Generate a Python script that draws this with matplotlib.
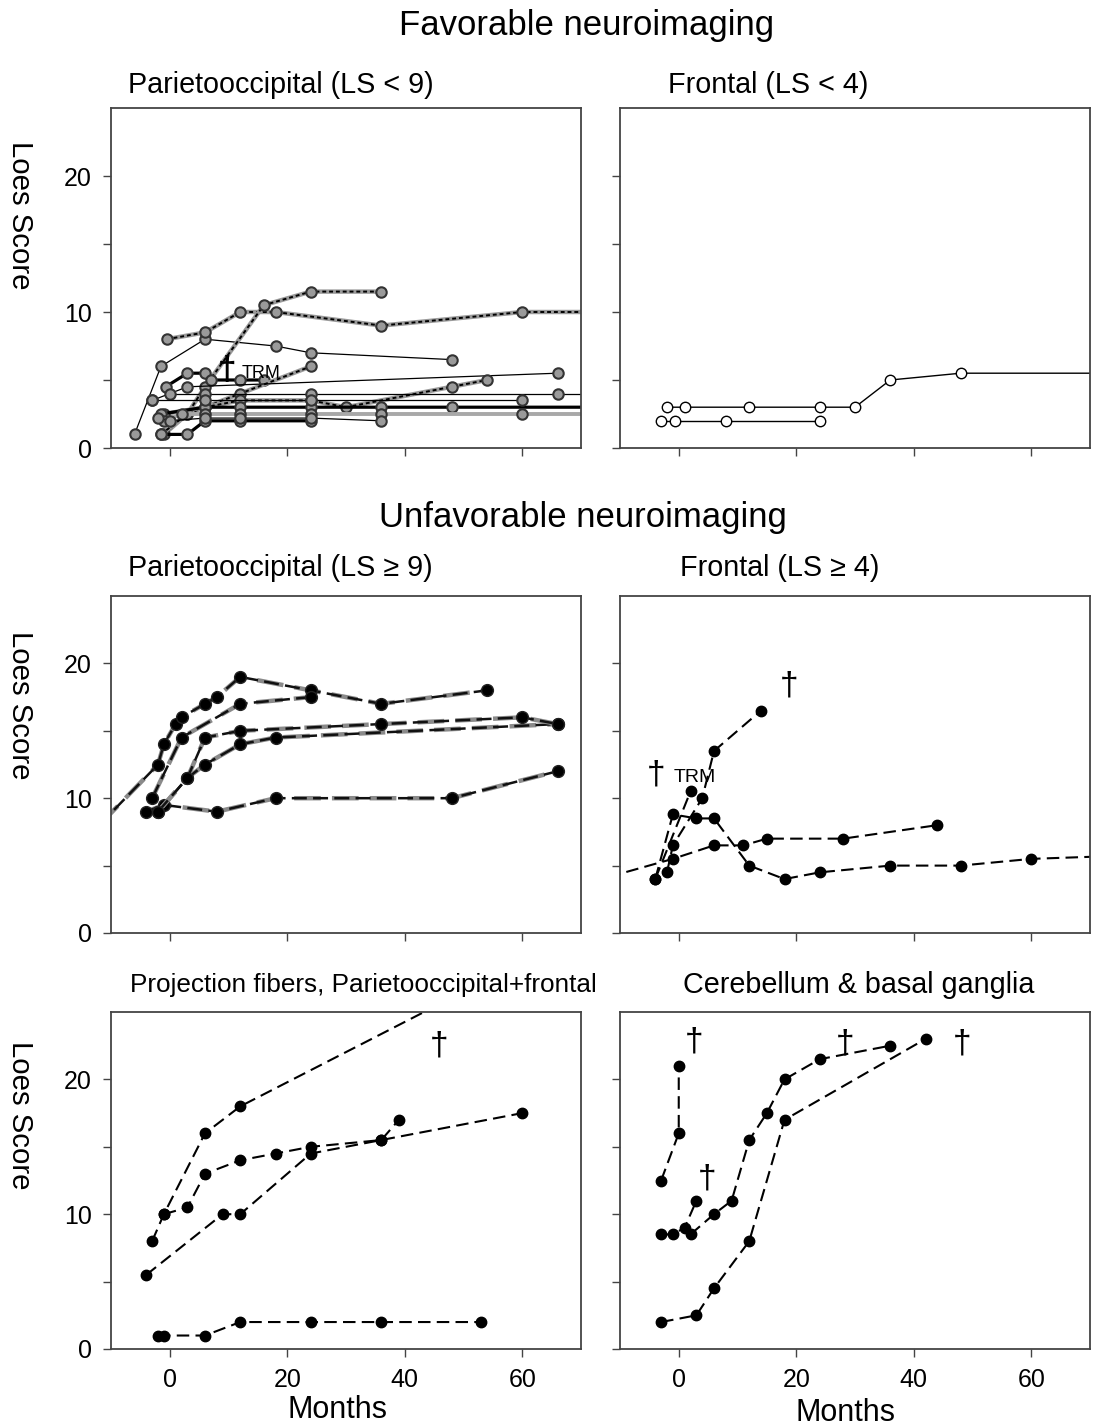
import matplotlib
matplotlib.use("Agg")
import matplotlib.pyplot as plt

plt.rcParams['font.family'] = ['Liberation Sans', 'DejaVu Sans']

W, H = 1094, 1428

# ---- favorable, parietooccipital (LS < 9)
fav_po_x = [
    [-6, -1.5, 6, 18, 24, 48],
    [-0.5, 6, 12, 18, 36, 60, 75],
    [-1, 3, 6, 16, 24, 36],
    [-0.7, 3, 6, 7, 12, 16],
    [-1.5, 3, 6, 12, 24],
    [-3, 3, 66],
    [-1, 6, 12, 24, 30, 48, 54],
    [-1.5, 6, 12, 24, 36, 48, 75],
    [0, 6, 24, 66, 75],
    [-3, 6, 24, 60],
    [-1, 2, 6, 12, 24, 36, 60, 75],
    [-1.5, 3, 6, 12, 24],
    [-2, 0, 6, 12, 24, 36],
]
fav_po_y = [
    [1, 6, 8, 7.5, 7, 6.5],
    [8, 8.5, 10, 10, 9, 10, 10],
    [1, 2.5, 4.5, 10.5, 11.5, 11.5],
    [4.5, 5.5, 5.5, 5, 5, 5],
    [1, 2.5, 3, 4, 6],
    [3.5, 4.5, 5.5],
    [2.5, 3, 3.5, 3.5, 3, 4.5, 5],
    [2.5, 3, 3, 3, 3, 3, 3],
    [4, 4, 4, 4, 4],
    [3.5, 3.5, 3.5, 3.5],
    [2, 2.5, 2.5, 2.5, 2.5, 2.5, 2.5, 2.5],
    [1, 1, 2, 2, 2],
    [2.2, 2, 2.2, 2.2, 2.2, 2],
]
fav_po_kind = ['thin', 'graydash', 'graydash', 'thick', 'graydash', 'thin', 'graydash',
               'thick', 'thin', 'thin', 'gray', 'thick', 'thin']

# ---- favorable, frontal (LS < 4)
fav_fr_x = [[-2, 1, 12, 24, 30, 36, 48, 75], [-3, -0.7, 8, 24]]
fav_fr_y = [[3, 3, 3, 3, 3, 5, 5.5, 5.5], [2, 2, 2, 2]]

# ---- unfavorable, parietooccipital (LS >= 9)
unf_po_x = [
    [-12, -2, -1, 1, 2, 6, 8, 12, 24, 36, 54],
    [-3, 2, 12, 24],
    [-4, -1, 8, 18, 48, 66],
    [-2, 3, 6, 12, 18, 66],
    [-2, 3, 6, 12, 36, 60, 66],
]
unf_po_y = [
    [8, 12.5, 14, 15.5, 16, 17, 17.5, 19, 18, 17, 18],
    [10, 14.5, 17, 17.5],
    [9, 9.5, 9, 10, 10, 12],
    [9, 11.5, 12.5, 14, 14.5, 15.5],
    [9, 11.5, 14.5, 15, 15.5, 16, 15.5],
]

# ---- unfavorable, frontal (LS >= 4)
unf_fr_x = [
    [-2, -1, 4, 6, 14],
    [-4, 2],
    [-4, -1, 3, 6, 12, 18, 24, 36, 48, 60, 80],
    [-12, -1, 6, 11, 15, 28, 44],
]
unf_fr_y = [
    [4.5, 6.5, 10, 13.5, 16.5],
    [4, 10.5],
    [4, 8.8, 8.5, 8.5, 5, 4, 4.5, 5, 5, 5.5, 5.8],
    [4.15, 5.5, 6.5, 6.5, 7, 7, 8],
]

# ---- projection fibers, parietooccipital + frontal
proj_x = [
    [-3, -1, 6, 12, 50],
    [-1, 3, 6, 12, 18, 24, 36, 39],
    [-4, 9, 12, 24, 36, 60],
    [-2, -1, 6, 12, 24, 36, 53],
]
proj_y = [
    [8, 10, 16, 18, 26.5],
    [10, 10.5, 13, 14, 14.5, 15, 15.5, 17],
    [5.5, 10, 10, 14.5, 15.5, 17.5],
    [1, 1, 1, 2, 2, 2, 2],
]

# ---- cerebellum & basal ganglia
cb_x = [
    [-3, 0, 0],
    [-3, -1, 1, 3],
    [2, 6, 9, 12, 15, 18, 24, 36],
    [-3, 3, 6, 12, 18, 42],
]
cb_y = [
    [12.5, 16, 21],
    [8.5, 8.5, 9, 11],
    [8.5, 10, 11, 15.5, 17.5, 20, 21.5, 22.5],
    [2, 2.5, 4.5, 8, 17, 23],
]

# deaths (dagger) positions per panel
fav_po_dead = [(9.7, 5.7)]
unf_fr_dead = [(18.7, 18.3), (-3.8, 11.7)]
proj_dead = [(45.9, 22.5)]
cb_dead = [(2.6, 22.8), (4.8, 12.6), (28.3, 22.6), (48.2, 22.6)]

SPINE = '#444444'


def make_axes(left_px, top_px, right_px, bottom_px, xlab=False, ylab=False):
    ax = fig.add_axes([left_px / W, 1 - bottom_px / H,
                       (right_px - left_px) / W, (bottom_px - top_px) / H])
    ax.set_xlim(-10, 70)
    ax.set_ylim(0, 25)
    ax.set_xticks([0, 20, 40, 60])
    ax.set_yticks([0, 5, 10, 15, 20])
    ax.set_xticklabels(['0', '20', '40', '60'] if xlab else [])
    ax.set_yticklabels(['0', '', '10', '', '20'] if ylab else [])
    ax.tick_params(direction='out', length=6, width=1, color=SPINE,
                   labelsize=18, pad=8)
    for s in ax.spines.values():
        s.set_color(SPINE)
        s.set_linewidth(1.3)
    return ax


def dashed(ax, x, y, lw=1.5, ms=7.5):
    ax.plot(x, y, color='black', lw=lw, ls=(0, (6, 3)),
            marker='o', ms=ms, mfc='black', mec='black')


def daggers(ax, pts, size=24):
    for px, py in pts:
        ax.text(px, py, '\u2020', fontsize=size, ha='center', va='center')


fig = plt.figure(figsize=(W / 100, H / 100), dpi=100)

# panel 1
ax1 = make_axes(111, 108, 581, 448, ylab=True)
for x, y, k in zip(fav_po_x, fav_po_y, fav_po_kind):
    mk = dict(marker='o', ms=7.5, mfc='#9a9a9a', mec='#333333', mew=1.5)
    if k == 'thin':
        ax1.plot(x, y, color='black', lw=0.9, **mk)
    elif k == 'thick':
        ax1.plot(x, y, color='black', lw=2.3, **mk)
    elif k == 'gray':
        ax1.plot(x, y, color='#a8a8a8', lw=2.8, **mk)
    else:
        ax1.plot(x, y, color='#9a9a9a', lw=3.2)
        ax1.plot(x, y, color='black', lw=1.4, ls=(0, (2, 1.5)), **mk)
for px, py in fav_po_dead:
    ax1.text(px, py, '\u2020', fontsize=24, fontweight='bold', ha='center', va='center')
    ax1.text(px + 2.6, py - 0.2, 'TRM', fontsize=13, ha='left', va='center')

# panel 2
ax2 = make_axes(620, 108, 1090, 448)
for x, y in zip(fav_fr_x, fav_fr_y):
    ax2.plot(x, y, color='black', lw=1.0, marker='o', ms=7.5,
             mfc='white', mec='black', mew=1.0)

# panel 3
ax3 = make_axes(111, 596, 581, 933, ylab=True)
for x, y in zip(unf_po_x, unf_po_y):
    ax3.plot(x, y, color='#8a8a8a', lw=3.2, ls=(0, (6, 2.5)))
    ax3.plot(x, y, color='#111111', lw=1.8, ls=(0, (6, 2.5)),
             marker='o', ms=8.5, mfc='black', mec='#222222')

# panel 4
ax4 = make_axes(620, 596, 1090, 933)
for x, y in zip(unf_fr_x, unf_fr_y):
    dashed(ax4, x, y)
daggers(ax4, unf_fr_dead)
ax4.text(-0.9, 11.55, 'TRM', fontsize=14, ha='left', va='center')

# panel 5
ax5 = make_axes(111, 1012, 581, 1349, xlab=True, ylab=True)
for x, y in zip(proj_x, proj_y):
    dashed(ax5, x, y)
daggers(ax5, proj_dead)

# panel 6
ax6 = make_axes(620, 1012, 1090, 1349, xlab=True)
for x, y in zip(cb_x, cb_y):
    dashed(ax6, x, y)
daggers(ax6, cb_dead)


def ftext(px, py, s, size, ha='center', rot=0):
    fig.text(px / W, 1 - py / H, s, fontsize=size, ha=ha, va='center', rotation=rot)


ftext(587, 25, 'Favorable neuroimaging', 25)
ftext(583, 517, 'Unfavorable neuroimaging', 25)
ftext(128, 85, 'Parietooccipital (LS < 9)', 20.7, ha='left')
ftext(668, 85, 'Frontal (LS < 4)', 20.7, ha='left')
ftext(128, 568, 'Parietooccipital (LS \u2265 9)', 20.7, ha='left')
ftext(680, 568, 'Frontal (LS \u2265 4)', 20.7, ha='left')
ftext(130, 985, 'Projection fibers, Parietooccipital+frontal', 18.8, ha='left')
ftext(683, 985, 'Cerebellum & basal ganglia', 20.7, ha='left')
for yc in (215, 705, 1115):
    ftext(20, yc, 'Loes Score', 21.2, rot=270)
ftext(337, 1410, 'Months', 22)
ftext(845, 1413, 'Months', 22)

fig.savefig('out.png', dpi=100)
